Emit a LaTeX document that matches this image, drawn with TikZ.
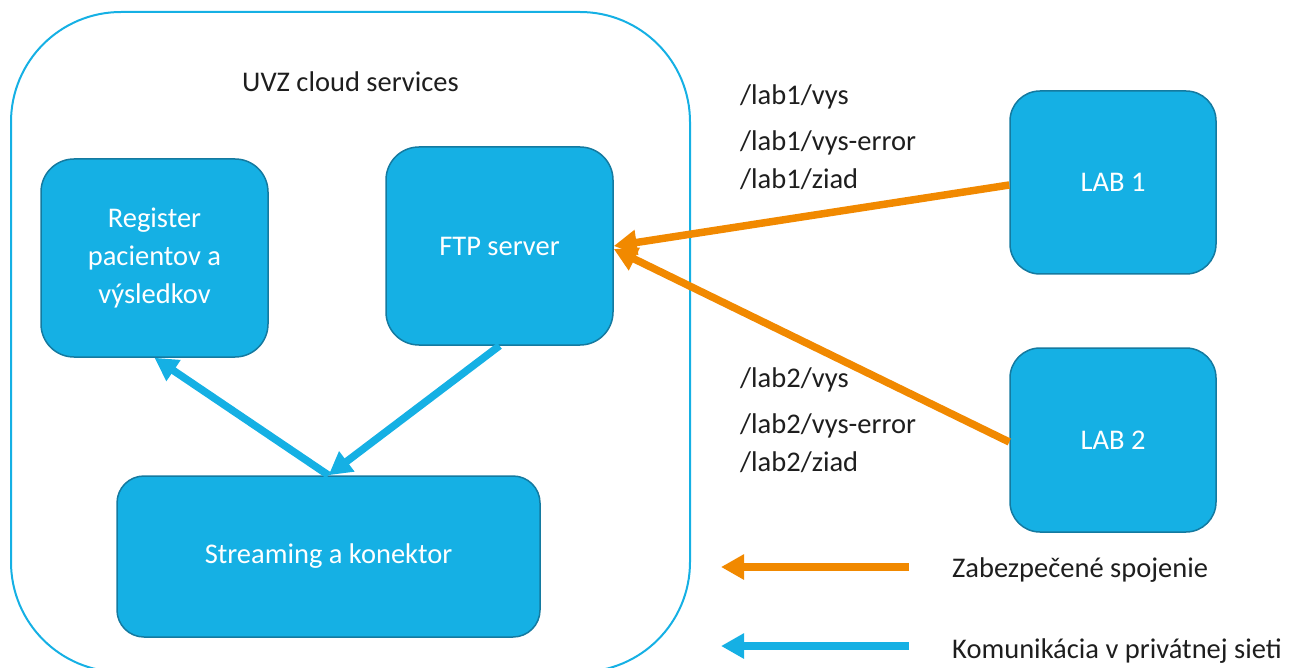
\documentclass[tikz,border=0pt]{standalone}
\usepackage{fontspec}
\setmainfont{Carlito}
\usetikzlibrary{arrows.meta}

\definecolor{boxblue}{RGB}{21,176,228}
\definecolor{edgeblue}{RGB}{20,122,160}
\definecolor{linkorange}{RGB}{241,137,0}
\definecolor{inktext}{RGB}{30,30,30}

\begin{document}
\begin{tikzpicture}[x=1pt,y=-1pt,
  every node/.style={font=\fontsize{28.5}{38}\selectfont, text=inktext},
  box/.style={draw=edgeblue, line width=1.5pt, fill=boxblue, text=white,
    align=center, inner sep=0pt, anchor=center},
  label/.style={anchor=base west, inner sep=0pt},
  link/.style={line width=7.5pt, -{Triangle[length=23pt,width=24pt]}},
  securelink/.style={link, draw=linkorange},
  privatelink/.style={link, draw=boxblue}]

  \useasboundingbox (0,0) rectangle (1295,668);
  \clip (0,0) rectangle (1295,668);

  % cloud boundary
  \draw[boxblue, line width=2pt, rounded corners=110pt] (11,12) rectangle (690,672);
  \node[anchor=base, inner sep=0pt] (cloud) at (350.5,92) {UVZ cloud services};

  % services inside the cloud
  \node[box, minimum width=227pt, minimum height=198pt, rounded corners=33pt]
    (reg) at (154.5,258) {Register\\pacientov a\\výsledkov};
  \node[box, minimum width=227pt, minimum height=198pt, rounded corners=33pt]
    (ftp) at (499.5,246) {FTP server};
  \node[box, minimum width=423pt, minimum height=161pt, rounded corners=27pt]
    (stream) at (328.5,556.5) {Streaming a konektor};

  % laboratories
  \node[box, minimum width=206pt, minimum height=183pt, rounded corners=30pt]
    (lab1) at (1113,182.5) {LAB 1};
  \node[box, minimum width=206pt, minimum height=184pt, rounded corners=30pt]
    (lab2) at (1113,440) {LAB 2};

  % folder paths
  \node[label] (p11) at (740,105) {/lab1/vys};
  \node[label] (p12) at (740,151) {/lab1/vys-error};
  \node[label] (p13) at (740,189) {/lab1/ziad};
  \node[label] (p21) at (740,387) {/lab2/vys};
  \node[label] (p22) at (740,433) {/lab2/vys-error};
  \node[label] (p23) at (740,471) {/lab2/ziad};

  % connections
  \draw[privatelink] (stream.north) -- (reg.south);
  \draw[privatelink] (ftp.south) -- (stream.north);
  \draw[securelink] ([yshift=-2pt]lab2.west) -- ([yshift=-3pt]ftp.east);
  \draw[securelink] ([yshift=-2.5pt]lab1.west) -- (ftp.east);

  % legend
  \coordinate (sectail) at (909,567);
  \coordinate (sectip) at (721,567);
  \coordinate (privtail) at (909,646);
  \coordinate (privtip) at (721,646);
  \draw[securelink] (sectail) -- (sectip);
  \draw[privatelink] (privtail) -- (privtip);
  \node[label] (secleg) at (952,577) {Zabezpečené spojenie};
  \node[label] (privleg) at (952,658) {Komunikácia v privátnej sieti};
\end{tikzpicture}
\end{document}
